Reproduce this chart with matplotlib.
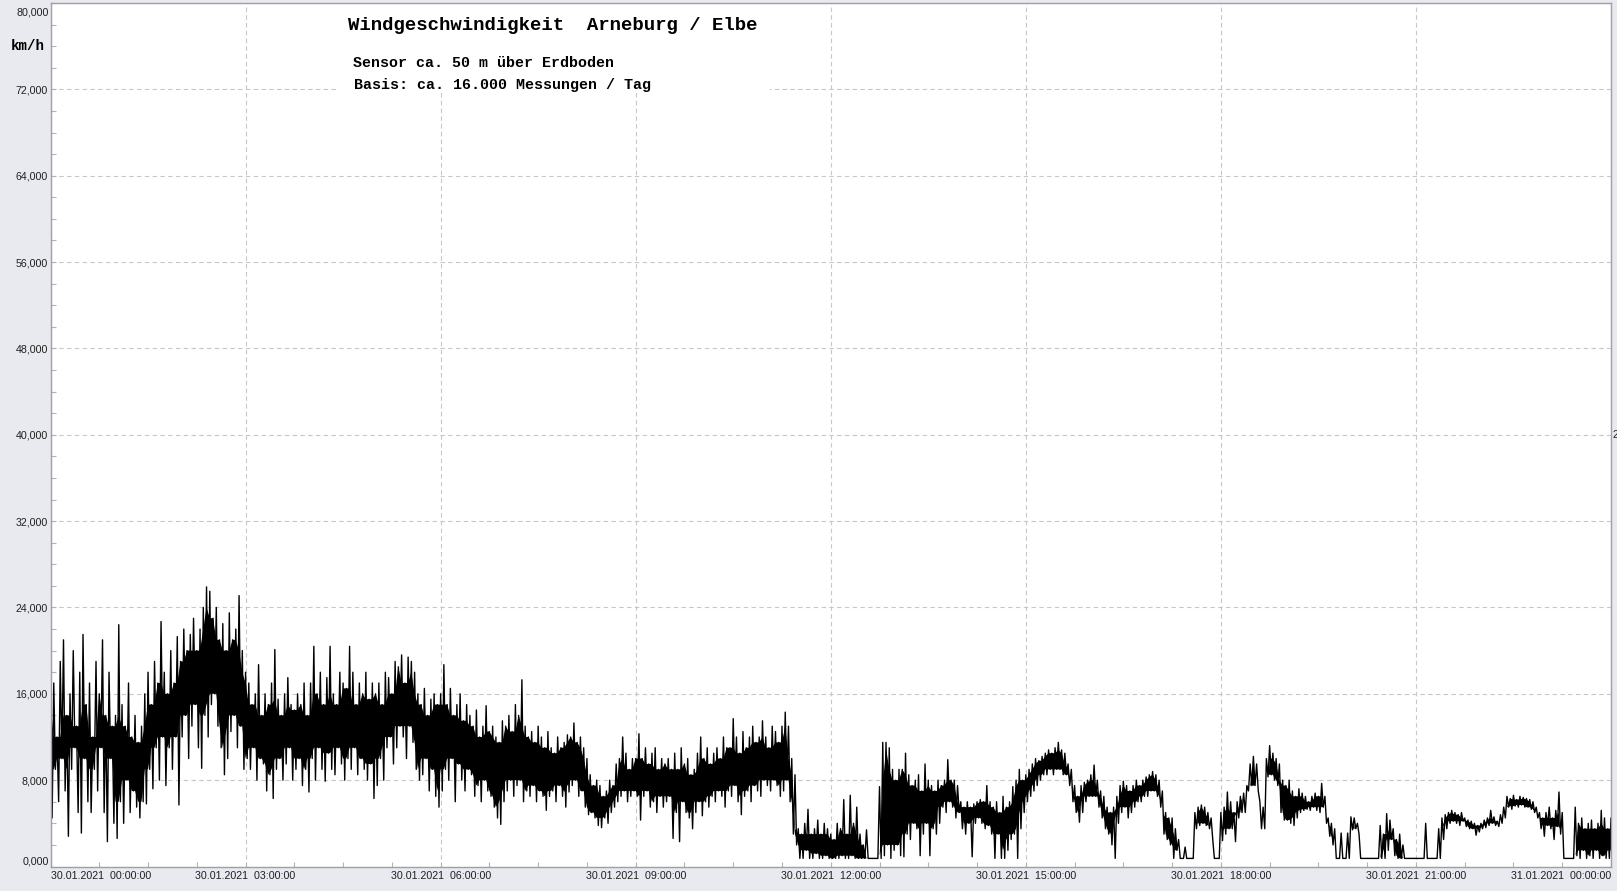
import numpy as np
import matplotlib.pyplot as plt
from matplotlib.patches import Rectangle

# Windgeschwindigkeit km/h, upper / lower swing per 3-minute step (0.05 h)
# one row = one hour, starting 30.01.2021 00:00
hi = [
    15, 17, 12, 19, 21, 14, 16, 20, 13, 18, 21.5, 15, 17, 12, 19, 16, 21, 14, 18, 13,
    14, 22.4, 15, 13, 17, 12, 14, 11.5, 13, 16, 18, 15, 19, 17, 22.7, 18, 16, 20, 17, 21.3,
    19, 22, 20, 21.5, 23, 20, 22, 24, 25.9, 25.5, 23, 24, 21, 22.5, 20, 23.5, 21, 22, 25.1, 20,
    18, 17, 15, 16, 18.7, 14, 16, 15, 17, 20.1, 15.5, 14, 16, 17.5, 15, 14.5, 16, 15, 17, 14,
    17, 20.4, 16, 18, 15, 17.5, 20.4, 16, 15, 18, 17, 16.5, 20.4, 18, 15, 17, 16, 18, 15.5, 17,
    16, 17, 15, 18, 17.5, 16, 19, 18.5, 19.6, 17, 19.4, 19, 18, 16, 15, 16.5, 14, 15.5, 16, 15,
    16, 18.7, 15, 16.5, 14, 15, 16, 13.5, 15, 14, 13, 14.5, 12, 13, 14.9, 12.5, 13, 12, 11.5, 13.5,
    13, 14, 12.5, 15, 14, 17.3, 13, 12, 12.5, 11.5, 13, 12, 11, 12.5, 11, 10.5, 12, 11, 11.5, 12.2,
    12, 13.3, 11.5, 12, 11, 10, 8.5, 7.5, 8, 7.5, 6.5, 7, 8, 7.5, 9.5, 10, 12, 10.5, 9, 10,
    10, 12.3, 10, 11, 9.5, 10.5, 11, 9, 10, 9.5, 10, 9, 10.5, 9, 11, 9.5, 10, 8.5, 9, 10.5,
    12, 10, 11, 9.5, 10.5, 11, 10, 12, 11, 11, 13.7, 12, 10.5, 12.5, 11, 12, 13, 11.5, 12, 13.5,
    12, 11, 13, 12.5, 11.5, 13, 14.3, 13, 10, 8.5, 3.5, 3, 4, 5.3, 3, 3.5, 4.3, 3, 4, 3.5,
    3, 2.5, 4, 3.5, 6.2, 3, 6.6, 4, 5.5, 3, 2, 3.4, 0.75, 0.75, 0.75, 7.4, 11.5, 11.5, 11, 9,
    8, 9, 9, 10.5, 8.5, 7.5, 8, 8.5, 7, 9.5, 8, 7.5, 7, 8, 7.5, 8, 9.9, 8, 8, 7.5,
    6, 5.5, 6, 5.5, 5.8, 6, 6.2, 6, 7.5, 6, 5.5, 6, 5, 6.5, 5.5, 6, 7.4, 8, 9, 8,
    8.5, 9, 9.5, 10, 9.8, 10.2, 10.5, 10.8, 10.5, 11, 11.5, 10.8, 10.5, 9.5, 9, 7.5, 6.5, 7.5, 7.8, 8,
    8.5, 9.4, 8, 7, 6.5, 5.5, 5, 5.5, 6.5, 7.5, 7.9, 7.5, 7, 7.5, 8, 7.5, 8, 8.3, 8.5, 8.8,
    8.5, 8, 7, 5, 4.5, 4.5, 3.5, 2.5, 0.75, 1.8, 0.75, 0.75, 5, 5.5, 5.7, 5.5, 5, 4.5, 0.75, 0.75,
    5, 5.5, 6.9, 6, 5, 6, 6.5, 6.8, 7.5, 9.5, 10.2, 9.5, 6, 5.5, 10, 11.2, 10.5, 10, 9.5, 8,
    7.5, 8, 7, 6.5, 7.2, 6.8, 6.5, 6, 6.5, 6.8, 6.5, 7.7, 6.5, 4.5, 4, 3.5, 0.75, 3.1, 0.75, 3.1,
    4.6, 4.5, 4, 0.75, 0.75, 0.75, 0.75, 0.75, 0.75, 3.8, 3, 4.9, 4.3, 3.5, 2.5, 3, 2, 0.75, 0.75, 0.75,
    0.75, 0.75, 0.75, 4, 0.75, 0.75, 0.75, 3.5, 4.5, 4.8, 5, 5.2, 5, 4.8, 5, 4.5, 4.3, 4.2, 4, 3.8,
    4, 4.3, 4.5, 5.2, 4.6, 4.2, 4.8, 5.5, 6.5, 6.3, 6.6, 6.2, 6.5, 6.4, 6.3, 6.2, 6, 5.5, 5, 4.5,
    5, 5.5, 4.5, 5.2, 6.9, 5, 0.75, 0.75, 0.75, 5.5, 4, 4.5, 3.5, 4, 4.3, 3.5, 4, 5.2, 4.5, 3.5, 4.5,
]
lo = [
    4.5, 9, 6, 10, 7, 2.8, 9, 11, 5, 3.1, 10, 6, 5, 9, 7, 11, 5, 2.3, 10, 4,
    2.6, 6, 4, 8, 5, 7, 5.5, 4.5, 6, 5.8, 9, 7.2, 11, 8, 12, 7.5, 11, 9, 12, 5.7,
    12, 14, 10, 13, 15, 11, 9.1, 14, 12, 15, 16, 13, 11, 8.5, 10, 12.5, 14, 11, 13, 9,
    10, 9, 11, 8, 10, 9.5, 7, 8.5, 6.3, 9, 10, 8, 9.5, 11, 8, 9, 10, 7.5, 9, 6.9,
    10, 8, 11, 9, 7.9, 10.5, 9, 8.5, 11, 9.5, 8, 10, 9, 11, 8.5, 10, 9, 8, 9.5, 6.3,
    7.5, 10, 8, 11, 12, 9.5, 11, 13, 12, 10, 13, 11.5, 9, 8, 8.5, 10, 7, 9, 6.5, 5.5,
    7, 9, 8, 10, 6, 9.5, 8, 7, 9, 8.5, 6.5, 7.5, 6, 8, 7, 6.5, 5.5, 4.5, 3.9, 6,
    7, 8, 6.5, 7.5, 8, 6, 7, 6.5, 7.5, 6, 7, 6.5, 5.2, 6.5, 7, 6, 7.5, 6.5, 5.5, 6.9,
    7.5, 8, 6.5, 7, 5.5, 4.8, 5, 4.5, 3.8, 3.6, 4.5, 4, 5, 5.5, 6, 6.5, 7, 6, 6.5, 7,
    6.5, 4.3, 6.5, 7, 5.5, 6, 5, 6.5, 5.5, 6, 6.5, 2.6, 5, 2.3, 6, 5, 4.5, 3.5, 5, 6,
    4.7, 6, 5.5, 6.5, 6, 7, 6.5, 5.5, 7, 6.5, 7.5, 6, 4.8, 6.5, 7, 6, 7.5, 7, 6.5, 8,
    7.5, 7, 8, 7.5, 6.5, 7, 8, 6, 3, 2, 0.75, 0.75, 1.5, 0.75, 0.75, 1.2, 0.75, 0.75, 1, 0.75,
    0.75, 0.75, 0.75, 1, 0.75, 0.75, 1, 0.75, 0.75, 0.75, 0.75, 0.75, 0.75, 0.75, 0.75, 0.75, 1, 2, 0.75, 1.5,
    2, 1, 0.9, 3, 2.5, 4, 3.5, 1, 3, 4, 1, 3.5, 3, 4, 5.5, 5, 6, 5.5, 4.5, 5,
    3.5, 3, 4, 0.9, 4, 4.5, 4, 3.5, 3.8, 3, 0.75, 3, 0.75, 0.75, 1.5, 2.5, 3, 0.75, 3.5, 5,
    6, 6.5, 7, 7.5, 8, 8.5, 8.5, 9, 8.5, 9, 9, 8.5, 8.5, 7.5, 6, 5, 4.1, 5, 6, 6.5,
    6.5, 6.5, 5.5, 4.5, 3.5, 3, 2, 0.75, 4, 5, 5.5, 4.5, 5, 5.5, 6, 6, 6.5, 6.5, 7, 7,
    6.5, 5.5, 3, 2.5, 2, 0.75, 1.5, 0.75, 0.75, 0.75, 0.75, 0.75, 3.5, 3.8, 4, 3.8, 3.5, 2.5, 0.75, 0.75,
    2.4, 3, 3.5, 3.5, 2.3, 4.5, 5, 5, 7, 7.5, 7.5, 7, 3.5, 3.5, 8.3, 8.5, 8, 7.5, 5, 4.3,
    4.3, 4, 3.8, 4.5, 5, 5.2, 5.3, 5.2, 5.5, 5.2, 5, 5.5, 4, 2.8, 2, 0.75, 0.75, 0.75, 0.75, 0.75,
    3.4, 3.5, 3, 0.75, 0.75, 0.75, 0.75, 0.75, 0.75, 0.75, 0.75, 1.5, 2.5, 1, 0.75, 0.75, 0.75, 0.75, 0.75, 0.75,
    0.75, 0.75, 0.75, 0.75, 0.75, 0.75, 0.75, 0.75, 2.5, 3.5, 4, 4.2, 4, 3.8, 4.2, 3.7, 3.5, 3.5, 2.9, 3.2,
    3.5, 3.6, 3.8, 4, 3.8, 3.7, 4, 4.5, 5.5, 5.3, 5.6, 5.5, 5.7, 5.5, 5.5, 5.3, 5, 4.5, 3.5, 2.8,
    3.8, 3.5, 2.5, 3.7, 3, 0.75, 0.75, 0.75, 0.75, 1, 0.75, 1.5, 0.75, 1, 0.75, 1.5, 0.75, 1, 0.75, 0.75, 1.5,
]

x_hours = [0, 3, 6, 9, 12, 15, 18, 21, 24]
x_labels = ['30.01.2021  00:00:00', '30.01.2021  03:00:00', '30.01.2021  06:00:00',
            '30.01.2021  09:00:00', '30.01.2021  12:00:00', '30.01.2021  15:00:00',
            '30.01.2021  18:00:00', '30.01.2021  21:00:00', '31.01.2021  00:00:00']
y_vals = [0, 8, 16, 24, 32, 40, 48, 56, 64, 72, 80]

n = min(len(hi), len(lo))
t = np.arange(n) * 0.05
hi_a = np.array(hi[:n])
lo_a = np.array(lo[:n])
xs = np.empty(2 * n)
ys = np.empty(2 * n)
xs[0::2] = t
xs[1::2] = t + 0.025
ys[0::2] = hi_a
ys[1::2] = lo_a

# solid core = range that neighbouring samples share, single spikes stay hairlines
pad_hi = np.pad(hi_a, 1, mode='edge')
pad_lo = np.pad(lo_a, 1, mode='edge')
core_hi = np.minimum.reduce([pad_hi[:-2], pad_hi[1:-1], pad_hi[2:]])
core_lo = np.maximum.reduce([pad_lo[:-2], pad_lo[1:-1], pad_lo[2:]])

W, H = 1617, 891
bg = '#e8eaf0'
fig = plt.figure(figsize=(W / 100, H / 100), dpi=100, facecolor=bg)
ax = fig.add_axes([50.5 / W, 1 - 866.5 / H, (1611 - 50.5) / W, (866.5 - 3) / H])
ax.set_facecolor('white')
ax.set_axisbelow(True)

ax.fill_between(t, core_lo, core_hi, where=core_hi > core_lo, interpolate=True,
                color='black', lw=0, zorder=2)
ax.plot(xs, ys, color='black', lw=1.0, zorder=2)

ax.set_xlim(0, 24)
ax.set_ylim(0, 80)
ax.set_xticks(x_hours)
ax.set_xticklabels(x_labels)
ax.set_xticks(np.arange(0, 24.01, 0.75), minor=True)
ax.set_yticks(y_vals)
ax.set_yticklabels(['' if v in (0, 80) else f'{v:.3f}'.replace('.', ',') for v in y_vals])
ax.set_yticks(np.arange(0, 81, 2), minor=True)

for s in ax.spines.values():
    s.set_color('#a0a0a0')
    s.set_linewidth(1.0)

ax.grid(which='major', color='#c8c8c8', lw=0.8, linestyle=(0, (4, 3)))
ax.tick_params(which='both', direction='in', length=3.5, color='#b4b4b4', width=0.8)
ax.tick_params(axis='x', which='major', labelsize=7.7, pad=3.5, labelcolor='#202020')
ax.tick_params(axis='y', which='major', labelsize=7.7, pad=2, labelcolor='#202020')
for lbl in ax.get_xticklabels() + ax.get_yticklabels():
    lbl.set_fontfamily('Liberation Sans')
xl = ax.get_xticklabels()
xl[0].set_ha('left')
xl[-1].set_ha('right')

# end labels of the y axis are pulled inside the frame
fig.text(48.5 / W, 1 - 12.7 / H, '80,000', ha='right', va='center',
         fontsize=7.7, family='Liberation Sans', color='#202020')
fig.text(48.5 / W, 1 - 861 / H, '0,000', ha='right', va='center',
         fontsize=7.7, family='Liberation Sans', color='#202020')

# white box behind the heading
ax.add_patch(Rectangle((0.183, 0.897), 0.278, 0.103, transform=ax.transAxes,
                       facecolor='white', edgecolor='none', zorder=1))

mono = 'Liberation Mono'
fig.text(348 / W, 1 - 25 / H, 'Windgeschwindigkeit  Arneburg / Elbe',
         ha='left', va='center', fontsize=13.7, family=mono, weight='bold')
fig.text(353 / W, 1 - 63 / H, 'Sensor ca. 50 m über Erdboden',
         ha='left', va='center', fontsize=10.8, family=mono, weight='bold')
fig.text(354 / W, 1 - 85 / H, 'Basis: ca. 16.000 Messungen / Tag',
         ha='left', va='center', fontsize=10.8, family=mono, weight='bold')
fig.text(11 / W, 1 - 46 / H, 'km/h', ha='left', va='center',
         fontsize=10.2, family=mono, weight='bold')
fig.text(1612 / W, 1 - 435 / H, '2', ha='left', va='center',
         fontsize=7.7, family='Liberation Sans', color='#202020')

fig.savefig('out.png', dpi=100, facecolor=bg)
